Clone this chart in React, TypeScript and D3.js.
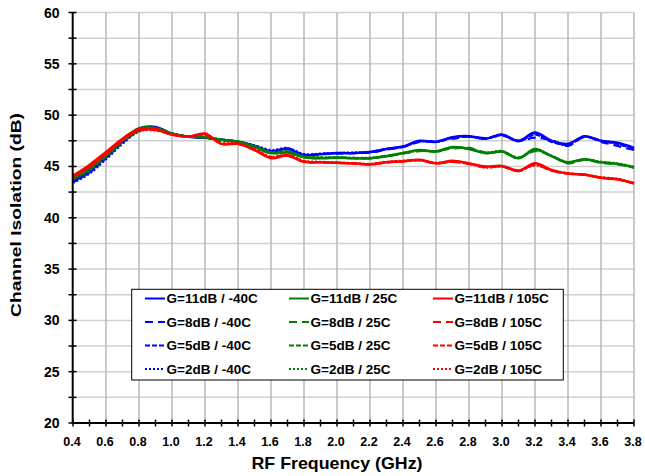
import React from "react";
import * as d3 from "d3";

const freqs = [0.4,0.5,0.6,0.7,0.8,0.9,1.0,1.1,1.2,1.3,1.4,1.5,1.6,1.7,1.8,1.9,2.0,2.1,2.2,2.3,2.4,2.5,2.6,2.7,2.8,2.9,3.0,3.1,3.2,3.3,3.4,3.5,3.6,3.7,3.8];

// -40C
const b11 = [43.6,44.6,46.0,47.5,48.7,48.85,48.2,47.9,47.8,47.6,47.4,47.0,46.45,46.7,46.1,46.2,46.3,46.3,46.4,46.7,46.95,47.5,47.4,47.85,47.95,47.7,48.1,47.5,48.3,47.5,47.2,47.95,47.5,47.3,46.8];
const b8 = [43.5,44.5,45.9,47.4,48.6,48.8,48.2,47.9,47.8,47.6,47.4,47.0,46.5,46.7,46.1,46.2,46.25,46.3,46.35,46.65,46.9,47.4,47.45,47.7,47.9,47.75,48.0,47.5,47.8,47.55,47.0,47.9,47.4,47.0,46.6];
const b5 = [43.5,44.4,45.8,47.3,48.5,48.7,48.2,47.9,47.8,47.6,47.4,47.0,46.5,46.75,46.15,46.2,46.3,46.3,46.4,46.7,46.9,47.45,47.4,47.8,47.9,47.7,48.05,47.45,48.1,47.4,47.1,47.9,47.5,47.2,46.7];
const b2 = [43.4,44.3,45.7,47.2,48.4,48.65,48.2,47.9,47.8,47.6,47.4,47.05,46.6,46.8,46.2,46.25,46.3,46.35,46.4,46.7,46.95,47.45,47.4,47.8,47.95,47.7,48.1,47.5,48.2,47.45,47.15,47.9,47.5,47.25,46.75];
// 25C
const g11 = [43.9,44.9,46.2,47.6,48.7,48.75,48.2,47.9,47.85,47.6,47.4,46.9,46.3,46.35,45.9,45.8,45.85,45.8,45.8,46.0,46.3,46.6,46.45,46.9,46.7,46.3,46.45,45.8,46.7,46.0,45.4,45.7,45.4,45.25,44.9];
const g8 = [43.8,44.8,46.1,47.5,48.6,48.7,48.2,47.9,47.85,47.6,47.4,46.9,46.3,46.4,45.9,45.8,45.85,45.8,45.8,46.0,46.25,46.5,46.5,46.75,46.8,46.35,46.4,45.85,46.5,46.05,45.3,45.65,45.35,45.2,44.9];
const g5 = [43.75,44.7,46.0,47.45,48.5,48.65,48.2,47.9,47.85,47.6,47.4,46.95,46.35,46.45,45.95,45.85,45.85,45.8,45.8,46.0,46.3,46.55,46.45,46.85,46.7,46.3,46.45,45.8,46.6,46.0,45.35,45.7,45.4,45.25,44.9];
const g2 = [43.7,44.6,45.9,47.35,48.45,48.6,48.2,47.9,47.85,47.6,47.45,47.0,46.4,46.5,46.0,45.9,45.9,45.85,45.85,46.05,46.3,46.55,46.5,46.85,46.75,46.35,46.5,45.85,46.65,46.05,45.4,45.7,45.45,45.3,44.95];
// 105C
const r11 = [44.1,45.15,46.4,47.7,48.65,48.65,48.1,47.9,48.2,47.2,47.2,46.6,45.8,46.05,45.45,45.4,45.35,45.3,45.2,45.4,45.5,45.65,45.3,45.55,45.3,45.0,45.05,44.6,45.3,44.65,44.3,44.2,43.9,43.75,43.35];
const r8 = [44.0,45.05,46.3,47.65,48.55,48.6,48.1,47.9,48.15,47.2,47.2,46.6,45.85,46.05,45.45,45.4,45.35,45.3,45.2,45.4,45.5,45.6,45.3,45.45,45.25,44.9,45.0,44.55,45.15,44.6,44.3,44.2,43.9,43.75,43.35];
const r5 = [44.0,45.0,46.25,47.6,48.5,48.55,48.1,47.9,48.1,47.25,47.2,46.65,45.9,46.1,45.5,45.4,45.35,45.3,45.2,45.4,45.5,45.6,45.3,45.5,45.3,44.95,45.0,44.55,45.2,44.6,44.3,44.2,43.9,43.75,43.35];
const r2 = [43.9,44.9,46.15,47.5,48.45,48.5,48.1,47.9,48.05,47.3,47.25,46.7,45.95,46.15,45.55,45.45,45.4,45.3,45.25,45.45,45.55,45.6,45.35,45.45,45.25,44.9,45.0,44.6,45.1,44.65,44.35,44.2,43.95,43.8,43.4];

const xTicks = [0.4,0.6,0.8,1.0,1.2,1.4,1.6,1.8,2.0,2.2,2.4,2.6,2.8,3.0,3.2,3.4,3.6,3.8];
const yTicks = [20,25,30,35,40,45,50,55,60];
const gains = ["11dB","8dB","5dB","2dB"];
const temps = ["-40C","25C","105C"];
const colors = ["#0000ff","#008000","#ff0000"];
const dashes = ["none","8,5","5,2","2,2"];
const seriesByTemp = [[b11,b8,b5,b2],[g11,g8,g5,g2],[r11,r8,r5,r2]];

export default function App() {
  const W = 645, H = 476;
  const x = d3.scaleLinear().domain([0.4, 3.8]).range([73, 634]);
  const y = d3.scaleLinear().domain([20, 60]).range([423, 12.5]);
  const line = d3.line<number>()
    .x((_, i) => x(freqs[i]))
    .y((d) => y(d))
    .curve(d3.curveCatmullRom.alpha(0.5));

  const minorX = d3.range(0.4, 3.8001, 0.1);
  const minorY = d3.range(20, 60.001, 2.5);
  const font = "'Liberation Sans', Arial, sans-serif";

  const legX = [145, 289, 433];
  const legY = [298.5, 322, 345.5, 369];

  return (
    <svg width={W} height={H} style={{ position: "absolute", left: 0, top: 0, background: "#fff" }} fontFamily={font}>
      <rect x={0} y={0} width={W} height={H} fill="#fff" />
      {/* grid */}
      {minorY.filter((v) => v > 20).map((v) => (
        <line key={"gy" + v} x1={73} x2={634} y1={y(v)} y2={y(v)} stroke="#d0d0d0" strokeWidth={1.5} />
      ))}
      {xTicks.filter((v) => v > 0.4).map((v) => (
        <line key={"gx" + v} x1={x(v)} x2={x(v)} y1={y(60)} y2={y(20)} stroke="#b8b8b8" strokeWidth={1.5} />
      ))}
      {/* series */}
      {seriesByTemp.map((arr, ti) =>
        arr.map((vals, gi) => (
          <path key={ti + "-" + gi} d={line(vals) || ""} fill="none" stroke={colors[ti]}
            strokeWidth={gi === 0 ? 2.5 : 2.25} strokeDasharray={dashes[gi]} />
        ))
      )}
      {/* axes */}
      <line x1={72.7} x2={72.7} y1={y(60)} y2={y(20) + 1} stroke="#000" strokeWidth={2} />
      <line x1={72} x2={634} y1={y(20)} y2={y(20)} stroke="#000" strokeWidth={2} />
      {minorY.map((v) => (
        <line key={"ty" + v} x1={68.5} x2={76.5} y1={y(v)} y2={y(v)} stroke="#000" strokeWidth={1.5} />
      ))}
      {minorX.map((v) => (
        <line key={"tx" + v.toFixed(1)} x1={x(v)} x2={x(v)} y1={419.5} y2={426.5} stroke="#000" strokeWidth={1.5} />
      ))}
      {yTicks.map((v) => (
        <text key={"ly" + v} x={59.5} y={y(v) + 5} textAnchor="end" fontSize={14} fontWeight="bold">{v}</text>
      ))}
      {xTicks.map((v) => (
        <text key={"lx" + v} x={x(v) - 1} y={446} textAnchor="middle" fontSize={12.5} fontWeight="bold">{v.toFixed(1)}</text>
      ))}
      <text x={337} y={468.5} textAnchor="middle" fontSize={16.5} fontWeight="bold" textLength={171} lengthAdjust="spacingAndGlyphs">RF Frequency (GHz)</text>
      <text transform={`translate(20.5,215) rotate(-90)`} textAnchor="middle" fontSize={15} fontWeight="bold" textLength={204} lengthAdjust="spacingAndGlyphs">Channel Isolation (dB)</text>
      {/* legend */}
      <rect x={131.7} y={289.3} width={431.6} height={90.7} fill="#fff" stroke="#000" strokeWidth={1} />
      {temps.map((t, ti) =>
        gains.map((g, gi) => (
          <g key={"lg" + ti + gi}>
            <line x1={legX[ti]} x2={legX[ti] + 20} y1={legY[gi]} y2={legY[gi]} stroke={colors[ti]} strokeWidth={2} strokeDasharray={dashes[gi]} />
            <text x={legX[ti] + 21.5} y={legY[gi] + 4.8} fontSize={13.5} fontWeight="bold">{`G=${g} / ${t}`}</text>
          </g>
        ))
      )}
    </svg>
  );
}
